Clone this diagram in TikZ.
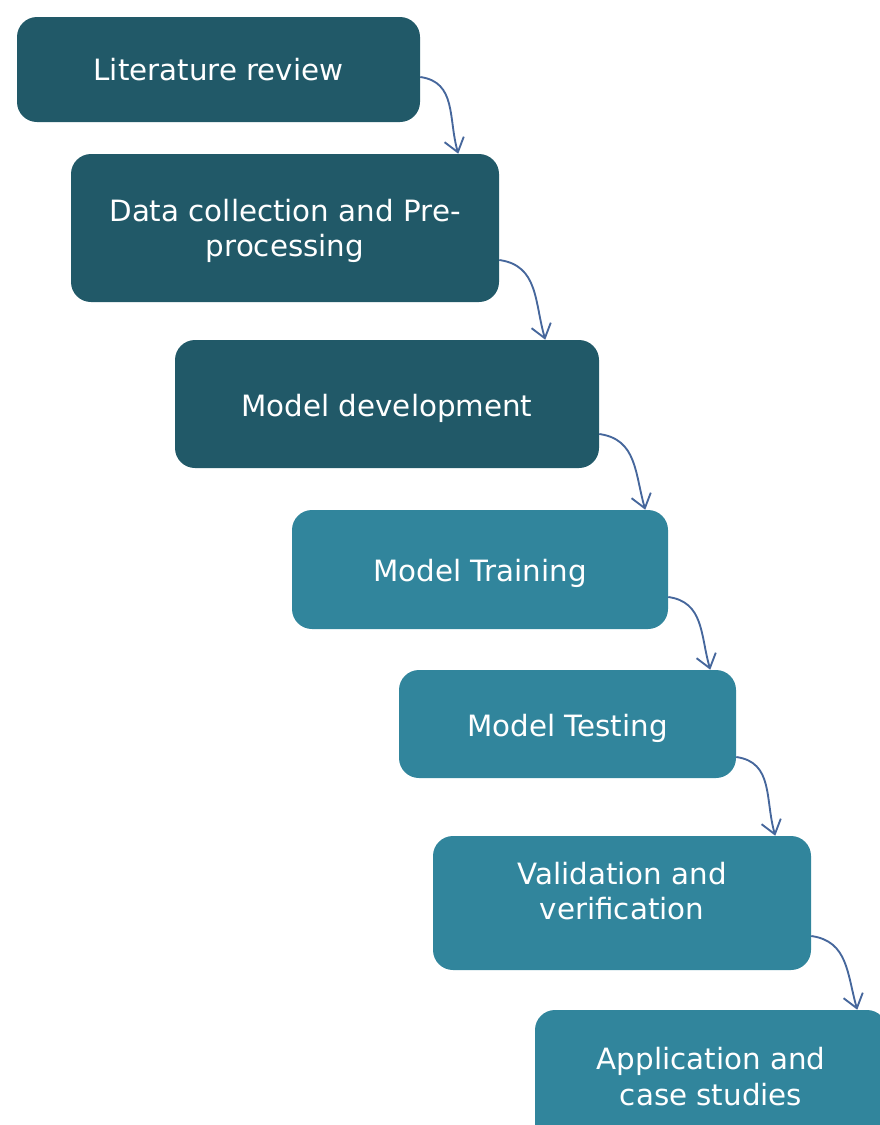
\documentclass[tikz,border=0pt]{standalone}
\usepackage{fontspec}
\setmainfont{DejaVu Sans}
\usetikzlibrary{arrows.meta,calc}
\definecolor{darkteal}{HTML}{215968}
\definecolor{lightteal}{HTML}{31859C}
\definecolor{flowblue}{HTML}{46679C}
% stage caption: centred lines, moved up by #1 without changing the box size
\newcommand{\stagetext}[2]{\raisebox{#1}[\height][\depth]{\def\arraystretch{1}\begin{tabular}{@{}c@{}}#2\end{tabular}}}
\begin{document}
\begin{tikzpicture}[x=0.75pt,y=-0.75pt,
  stage/.style={rectangle, rounded corners=15pt, text=white, align=center,
    inner sep=0pt, font=\fontsize{22}{26.5}\selectfont},
  darkstage/.style={stage, fill=darkteal},
  lightstage/.style={stage, fill=lightteal},
  flow/.style={draw=flowblue, line width=1.4pt,
    -{Straight Barb[length=10pt,width=15pt]}, out=-8, in=106, looseness=1.1}]
\useasboundingbox (0,0) rectangle (879,1125);

\node[darkstage, minimum width=302.25pt, minimum height=78.75pt] (lit) at (218.5,69.5) {\stagetext{-3pt}{Literature review}};
\node[darkstage, minimum width=321pt, minimum height=111pt] (data) at (285,228) {\stagetext{-3pt}{Data collection and Pre-\\processing}};
\node[darkstage, minimum width=318pt, minimum height=96pt] (dev) at (387,404) {\stagetext{-3.75pt}{Model development}};
\node[lightstage, minimum width=282pt, minimum height=89.25pt] (train) at (480,569.5) {\stagetext{-3.75pt}{Model Training}};
\node[lightstage, minimum width=252.75pt, minimum height=81pt] (test) at (567.5,724) {\stagetext{-3.75pt}{Model Testing}};
\node[lightstage, minimum width=283.5pt, minimum height=100.5pt] (valid) at (622,903) {\stagetext{6pt}{Validation and\\verification}};
\node[lightstage, minimum width=264pt, minimum height=101.25pt] (app) at (711,1077.5) {\stagetext{-2.25pt}{Application and\\case studies}};

\draw[flow] ($(lit.east)+(0,7.5)$) to ($(data.north east)+(-41,0)$);
\draw[flow] ($(data.east)+(0,32)$) to ($(dev.north east)+(-54,0)$);
\draw[flow] ($(dev.east)+(0,30)$) to ($(train.north east)+(-23,0)$);
\draw[flow] ($(train.east)+(0,27.5)$) to ($(test.north east)+(-26,0)$);
\draw[flow] ($(test.east)+(0,33)$) to ($(valid.north east)+(-36,0)$);
\draw[flow] ($(valid.east)+(0,33)$) to ($(app.north east)+(-30,0)$);
\end{tikzpicture}
\end{document}
